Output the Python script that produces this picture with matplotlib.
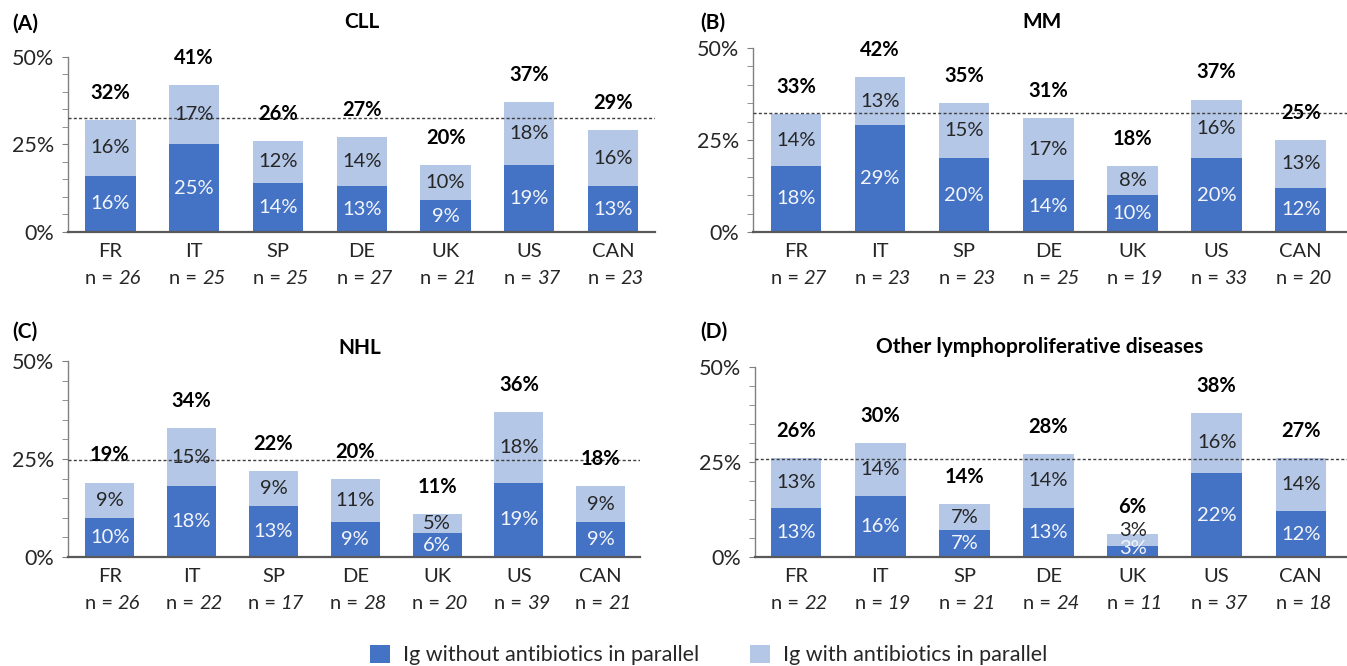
import matplotlib
matplotlib.use("Agg")
import matplotlib.pyplot as plt
import matplotlib.transforms as mtransforms
from matplotlib.patches import Patch
from matplotlib.ticker import MultipleLocator, FixedLocator

plt.rcParams['font.family'] = ['Lato', 'DejaVu Sans']

countries = ["FR", "IT", "SP", "DE", "UK", "US", "CAN"]

cll_without = [16, 25, 14, 13, 9, 19, 13]
cll_with = [16, 17, 12, 14, 10, 18, 16]
cll_total = [32, 41, 26, 27, 20, 37, 29]
cll_n = [26, 25, 25, 27, 21, 37, 23]
cll_avg = 32.5

mm_without = [18, 29, 20, 14, 10, 20, 12]
mm_with = [14, 13, 15, 17, 8, 16, 13]
mm_total = [33, 42, 35, 31, 18, 37, 25]
mm_n = [27, 23, 23, 25, 19, 33, 20]
mm_avg = 32.3

nhl_without = [10, 18, 13, 9, 6, 19, 9]
nhl_with = [9, 15, 9, 11, 5, 18, 9]
nhl_total = [19, 34, 22, 20, 11, 36, 18]
nhl_n = [26, 22, 17, 28, 20, 39, 21]
nhl_avg = 24.8

oth_without = [13, 16, 7, 13, 3, 22, 12]
oth_with = [13, 14, 7, 14, 3, 16, 14]
oth_total = [26, 30, 14, 28, 6, 38, 27]
oth_n = [22, 19, 21, 24, 11, 37, 18]
oth_avg = 25.9

titles = ["CLL", "MM", "NHL", "Other lymphoproliferative diseases"]
letters = ["(A)", "(B)", "(C)", "(D)"]
legend_labels = ["Ig without antibiotics in parallel", "Ig with antibiotics in parallel"]

DARK = "#4472C4"
LIGHT = "#B4C7E7"
TXT = "#262626"

W, H = 1347, 666
fig = plt.figure(figsize=(W / 100, H / 100), dpi=100)

def px_axes(left, right, top, bottom):
    return fig.add_axes([left / W, 1 - bottom / H, (right - left) / W, (bottom - top) / H])

panels = [
    dict(rect=(68, 655, 57, 232), xr=(-0.507, 6.5), d=cll_without, l=cll_with, t=cll_total, n=cll_n, avg=cll_avg,
         letter_xy=(12, 24), title_xy=(362, 22)),
    dict(rect=(753, 1347, 48, 232), xr=(-0.51, 6.55), d=mm_without, l=mm_with, t=mm_total, n=mm_n, avg=mm_avg,
         letter_xy=(700, 23), title_xy=(1042, 22)),
    dict(rect=(68, 640, 361, 557), xr=(-0.51, 6.48), d=nhl_without, l=nhl_with, t=nhl_total, n=nhl_n, avg=nhl_avg,
         letter_xy=(12, 332), title_xy=(360, 348)),
    dict(rect=(755, 1347, 367, 557), xr=(-0.49, 6.55), d=oth_without, l=oth_with, t=oth_total, n=oth_n, avg=oth_avg,
         letter_xy=(700, 332), title_xy=(1040, 347)),
]

for i, p in enumerate(panels):
    ax = px_axes(*p["rect"])
    x = list(range(len(countries)))
    ax.bar(x, p["d"], width=0.6, color=DARK, zorder=2)
    ax.bar(x, p["l"], width=0.6, bottom=p["d"], color=LIGHT, zorder=2)
    ax.axhline(p["avg"], color="#404040", lw=1.0, ls=(0, (2.2, 1.6)), zorder=3)
    for xi, dv, lv, tv in zip(x, p["d"], p["l"], p["t"]):
        yd = dv / 2 if dv >= 5 else dv * 0.72
        ax.text(xi, yd, f"{dv}%", ha="center", va="center", color="#F4F6FB", fontsize=14.5, zorder=4)
        yl = dv + lv / 2 if lv >= 5 else dv + lv + 1.0
        ax.text(xi, yl, f"{lv}%", ha="center", va="center", color=TXT, fontsize=14.5, zorder=4)
        ax.annotate(f"{tv}%", (xi, dv + lv), xytext=(0, 19.5), textcoords="offset points",
                    ha="center", va="center", fontsize=14.5, fontweight="bold", color="black", zorder=4)
    ax.set_xlim(*p["xr"])
    ax.set_ylim(0, 50)
    ax.yaxis.set_major_locator(FixedLocator([0, 25, 50]))
    ax.yaxis.set_minor_locator(MultipleLocator(5))
    ax.set_yticklabels(["0%", "25%", "50%"])
    ax.set_xticks(x)
    ax.set_xticklabels([""] * len(x))
    trans = mtransforms.blended_transform_factory(ax.transData, ax.transAxes)
    for xi, c, nn in zip(x, countries, p["n"]):
        ax.annotate(c, (xi, 0), xycoords=trans, xytext=(0, -13.7), textcoords="offset points",
                    ha="center", va="center", fontsize=14.5, color=TXT, annotation_clip=False)
        ax.annotate("n =", (xi, 0), xycoords=trans, xytext=(2.0, -33.8), textcoords="offset points",
                    ha="right", va="center", fontsize=14.5, color=TXT, annotation_clip=False)
        ax.annotate(str(nn), (xi, 0), xycoords=trans, xytext=(5.6, -33.8), textcoords="offset points",
                    ha="left", va="center", fontsize=14.5, color=TXT, style="italic", annotation_clip=False)
    ax.tick_params(axis="x", length=0)
    ax.tick_params(axis="y", which="both", length=4, color="#808080", labelsize=15.5, labelcolor=TXT, pad=6)
    for s in ["top", "right"]:
        ax.spines[s].set_visible(False)
    ax.spines["left"].set_color("#808080")
    ax.spines["left"].set_linewidth(1.0)
    ax.spines["bottom"].set_color("#595959")
    ax.spines["bottom"].set_linewidth(1.6)
    lx, ly = p["letter_xy"]
    fig.text(lx / W, 1 - ly / H, letters[i], ha="left", va="center", fontsize=15, fontweight="bold", color="black")
    tx, ty = p["title_xy"]
    fig.text(tx / W, 1 - ty / H, titles[i], ha="center", va="center", fontsize=15, fontweight="bold", color="black")

handles = [Patch(facecolor=DARK, edgecolor="none"), Patch(facecolor=LIGHT, edgecolor="none")]
fig.legend(handles, legend_labels, loc="center", bbox_to_anchor=(0.526, 0.0165), ncol=2, frameon=False,
           fontsize=15.5, handlelength=0.9, handleheight=0.9, handletextpad=0.6, columnspacing=2.4,
           labelcolor=TXT, borderpad=0.0)

fig.savefig("out.png", dpi=100)
